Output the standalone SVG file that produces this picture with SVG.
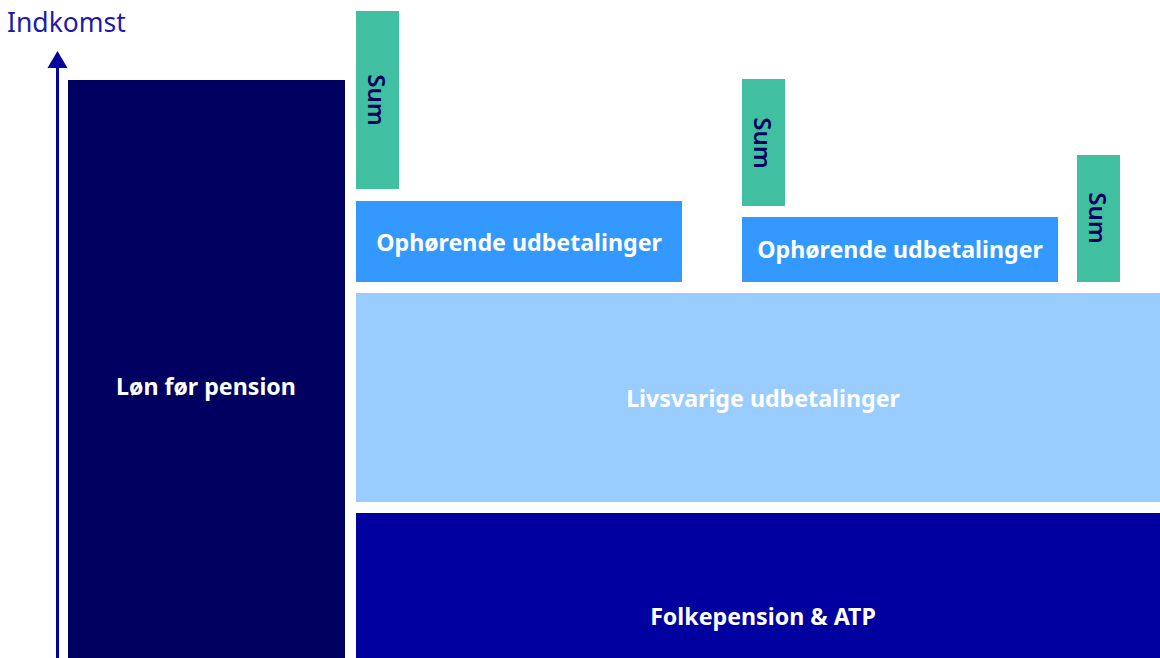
<svg xmlns="http://www.w3.org/2000/svg" width="1160" height="658" viewBox="0 0 1160 658">
<style>
.lbl{font-family:"Noto Sans","Open Sans",sans-serif;font-weight:700;font-size:23.2px;fill:#ffffff;text-anchor:middle;dominant-baseline:central}
.sum{font-family:"Noto Sans","Open Sans",sans-serif;font-weight:600;font-size:24px;fill:#000060;text-anchor:middle;dominant-baseline:central}
.green{fill:#40c0a0}
.mid{fill:#3399ff}
</style>
<text x="7" y="32" font-family="Noto Sans, Open Sans, sans-serif" font-size="26.5" fill="#1c1ca8">Indkomst</text>
<g id="connectors">
<line x1="57.5" y1="658" x2="57.5" y2="68" stroke="#0000a0" stroke-width="3"/>
<path d="M57.5,51 L67.5,68 L47.5,68 Z" fill="#0000a0"/>
</g>
<g id="lon"><rect x="68" y="80" width="277" height="578" fill="#000060"/><text class="lbl" x="206" y="386">Løn før pension</text></g>
<g id="sum1"><rect class="green" x="356" y="11" width="43" height="178"/><text class="sum" transform="translate(377,100) rotate(90)">Sum</text></g>
<g id="oph1"><rect class="mid" x="356" y="201" width="326" height="81"/><text class="lbl" x="519" y="242">Ophørende udbetalinger</text></g>
<g id="sum2"><rect class="green" x="742" y="79" width="43" height="127"/><text class="sum" transform="translate(763,143) rotate(90)">Sum</text></g>
<g id="oph2"><rect class="mid" x="742" y="217" width="316" height="65"/><text class="lbl" x="900" y="249">Ophørende udbetalinger</text></g>
<g id="sum3"><rect class="green" x="1077" y="155" width="43" height="127"/><text class="sum" transform="translate(1098,218) rotate(90)">Sum</text></g>
<g id="livs"><rect x="356" y="293" width="804" height="209" fill="#99ccff"/><text class="lbl" x="763" y="398">Livsvarige udbetalinger</text></g>
<g id="folk"><rect x="356" y="513" width="804" height="145" fill="#0000a0"/><text class="lbl" x="763" y="616">Folkepension &amp; ATP</text></g>
</svg>
